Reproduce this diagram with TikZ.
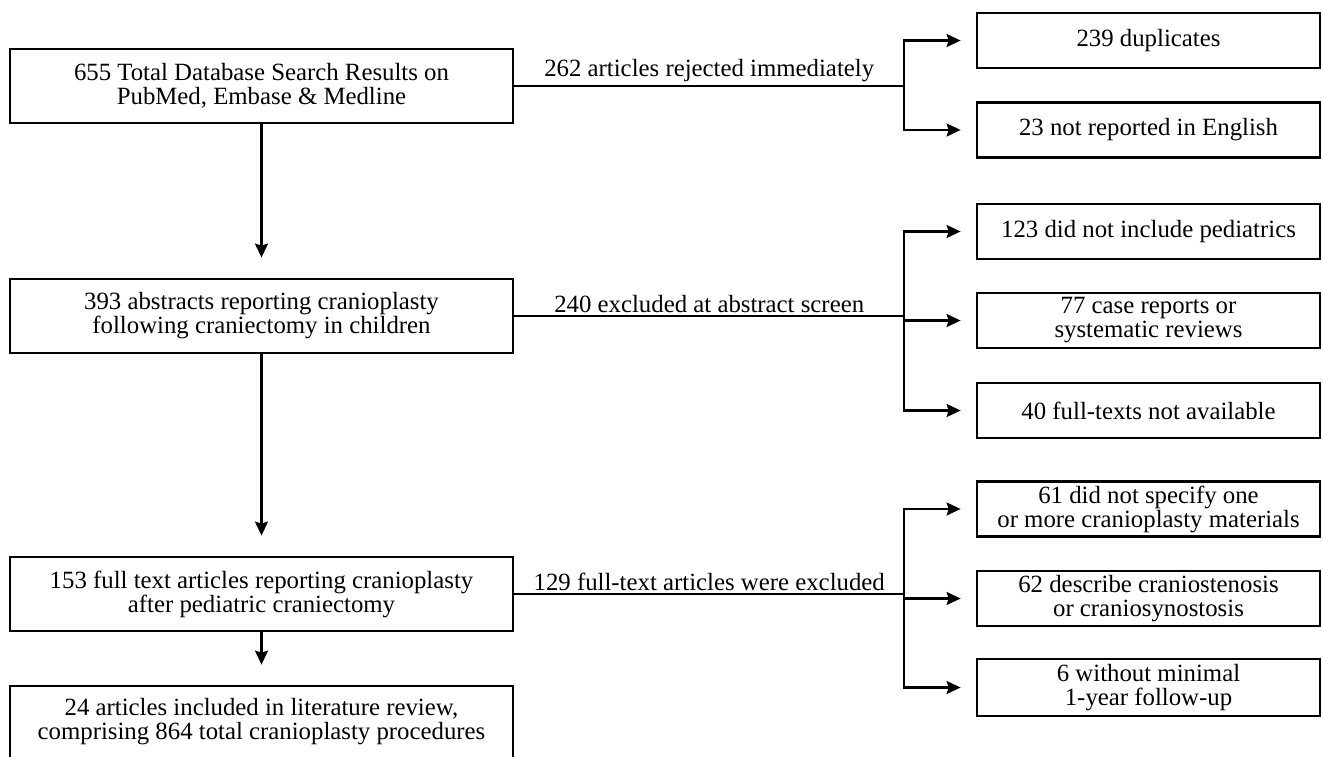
\documentclass[tikz,border=0pt]{standalone}
\usepackage{fontspec}
\setmainfont{Liberation Serif}
\usetikzlibrary{arrows.meta}
\tikzset{
    bigbox/.style={draw, line width=1.4pt, minimum width=251.5pt, minimum height=37pt, inner sep=0pt, align=center, font=\fontsize{12.4}{12}\selectfont},
    smallbox/.style={draw, line width=1.4pt, minimum width=171.5pt, minimum height=27.5pt, inner sep=0pt, align=center, font=\fontsize{12.4}{12}\selectfont},
    link/.style={line width=0.7pt},
    arr/.style={line width=1.1pt, -{Stealth[length=7pt,width=6.5pt,inset=1pt]}, shorten >=7.5pt}
}
\begin{document}
\begin{tikzpicture}[x=0.5pt,y=-0.5pt]
                %\draw[help lines] (0,0) grid[step=100] (1323,756);
                \useasboundingbox (0,0) rectangle (1323,756);
                \node[bigbox] (search) at (261.5,86) {655 Total Database Search Results on\\PubMed, Embase \& Medline};
                \node[bigbox] (abstracts) at (261.5,316) {393 abstracts reporting cranioplasty\\following craniectomy in children};
                \node[bigbox] (fulltext) at (261.5,594) {153 full text articles reporting cranioplasty\\after pediatric craniectomy};
                \node[bigbox, minimum height=36pt] (included) at (261.5,722) {24 articles included in literature review,\\comprising 864 total cranioplasty procedures};
                \node[smallbox] (dupl) at (1148.5,40.5) {239 duplicates};
                \node[smallbox] (engl) at (1148.5,130) {23 not reported in English};
                \node[smallbox] (peds) at (1148.5,231.5) {123 did not include pediatrics};
                \node[smallbox] (cases) at (1148.5,320.5) {77 case reports or\\systematic reviews};
                \node[smallbox] (avail) at (1148.5,410.5) {40 full-texts not available};
                \node[smallbox] (mater) at (1148.5,509) {61 did not specify one\\or more cranioplasty materials};
                \node[smallbox] (synost) at (1148.5,598.5) {62 describe craniostenosis\\or craniosynostosis};
                \node[smallbox, minimum height=28.5pt] (follow) at (1148.5,687.5) {6 without minimal\\1-year follow-up};
                \coordinate (ba) at (904,86);
                \coordinate (bb) at (904,316);
                \coordinate (bc) at (904,594);
                \draw[arr, shorten >=10pt] (search) -- (abstracts);
                \draw[arr, shorten >=10pt] (abstracts) -- (fulltext);
                \draw[arr, shorten >=10pt] (fulltext) -- (included);
                \draw[link] (search.east) -- (ba) node[midway, above, inner sep=1.5pt, font=\fontsize{12.4}{12}\selectfont] {262 articles rejected immediately};
                \draw[link] (abstracts.east) -- (bb) node[midway, above, inner sep=1.5pt, font=\fontsize{12.4}{12}\selectfont] {240 excluded at abstract screen};
                \draw[link] (fulltext.east) -- (bc) node[midway, above, inner sep=1.5pt, font=\fontsize{12.4}{12}\selectfont] {129 full-text articles were excluded};
                \draw[arr] (ba) |- (dupl.west);
                \draw[arr] (ba) |- (engl.west);
                \draw[arr] (bb) |- (peds.west);
                \draw[arr] (bb) |- (cases.west);
                \draw[arr] (bb) |- (avail.west);
                \draw[arr] (bc) |- (mater.west);
                \draw[arr] (bc) |- (synost.west);
                \draw[arr] (bc) |- (follow.west);
            \end{tikzpicture}
\end{document}
